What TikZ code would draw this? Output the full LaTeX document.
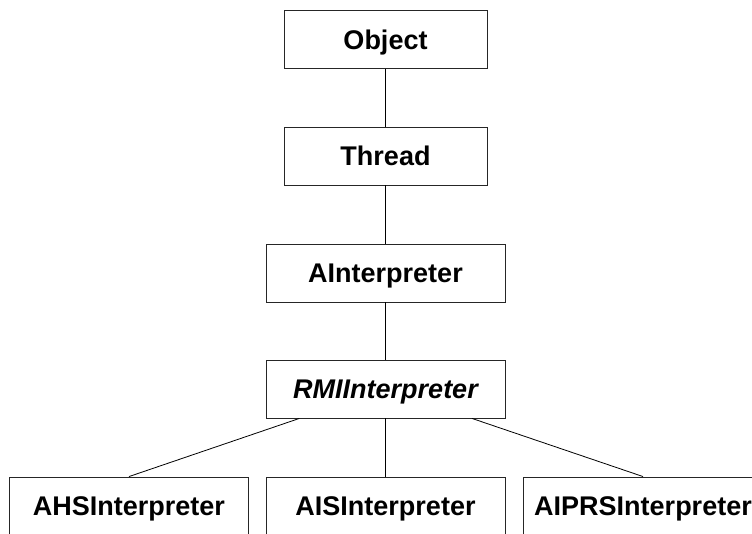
\documentclass[tikz,border=0pt]{standalone}
\usepackage{fontspec}
\setmainfont{Liberation Sans}
\begin{document}
\begin{tikzpicture}[x=1pt,y=-1pt,
  cls/.style={draw=black!85,line width=0.9pt,minimum height=58pt,inner sep=0pt,
    font=\fontsize{27}{32}\selectfont\bfseries,text height=19.3pt,text depth=0pt},
  narrow/.style={cls,minimum width=203pt},
  wide/.style={cls,minimum width=239pt},
  link/.style={draw=black,line width=0.8pt}]
\useasboundingbox (0,0) rectangle (752,533);
\clip (0,0) rectangle (752,533);
\node[narrow] (object) at (385.5,39.5) {Object};
\node[narrow] (thread) at (385.5,156) {Thread};
\node[wide] (ainterp) at (385.5,273) {AInterpreter};
\node[wide] (rmi) at (385.5,389) {\itshape RMIInterpreter};
\node[wide] (ahs) at (129,506) {AHSInterpreter};
\node[wide] (ais) at (385.5,506) {AISInterpreter};
\node[wide] (aiprs) at (643,506) {AIPRSInterpreter};
\draw[link] (object) -- (thread);
\draw[link] (thread) -- (ainterp);
\draw[link] (ainterp) -- (rmi);
\draw[link] (rmi) -- (ahs.north);
\draw[link] (rmi) -- (ais.north);
\draw[link] (rmi) -- (aiprs.north);
\end{tikzpicture}
\end{document}
